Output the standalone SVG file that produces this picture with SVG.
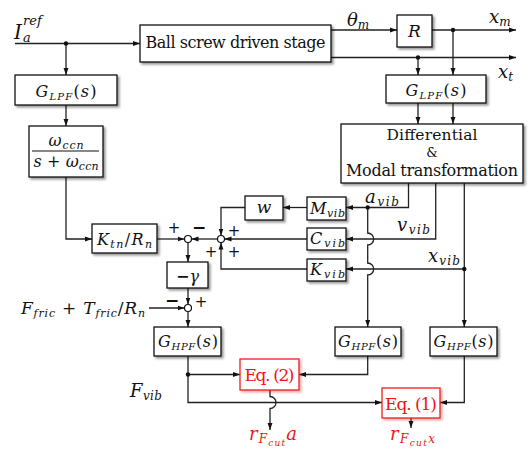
<svg xmlns="http://www.w3.org/2000/svg" width="528" height="453" viewBox="0 0 528 453">
<style>
.bx{fill:#fff;stroke:#111;stroke-width:1.3;filter:url(#sh)}
.rb{fill:#fff;stroke:#f21c1c;stroke-width:1.3;filter:url(#shr)}
.ln{fill:none;stroke:#222;stroke-width:1.3}
.ar{marker-end:url(#ah)}
.t{font-family:"DejaVu Serif","Liberation Serif",serif;fill:#111}
.i{font-style:italic}
.red{fill:#f01414}
.dot{fill:#111}
.sj{fill:#fff;stroke:#111;stroke-width:1.2}
.sg{font-family:"DejaVu Sans","Liberation Sans",sans-serif;font-size:15px;fill:#111}
.mi{font-family:"DejaVu Sans","Liberation Sans",sans-serif;font-size:17px;font-weight:bold;fill:#111}
</style>
<defs>
<filter id="sh" x="-20%" y="-20%" width="150%" height="160%"><feDropShadow dx="2" dy="2" stdDeviation="1.2" flood-color="#000" flood-opacity="0.4"/></filter>
<filter id="shr" x="-20%" y="-20%" width="150%" height="160%"><feDropShadow dx="2" dy="2" stdDeviation="1.2" flood-color="#b00" flood-opacity="0.3"/></filter>
<marker id="ah" viewBox="0 0 10 10" refX="10" refY="5" markerWidth="7" markerHeight="7" markerUnits="userSpaceOnUse" orient="auto"><path d="M0,1.5 L10,5 L0,8.5 z" fill="#111"/></marker>
</defs>

<g id="connectors">
<path class="ln ar" d="M15,43.5 H140"/>
<path class="ln ar" d="M66,43.5 V75"/>
<path class="ln ar" d="M66,105 V126"/>
<path class="ln ar" d="M66,177 V239 H92"/>
<path class="ln ar" d="M157,239 H184.5"/>
<path class="ln ar" d="M217.5,239 H191.5"/>
<path class="ln ar" d="M188,242.5 V262"/>
<path class="ln ar" d="M188,288 V304.5"/>
<path class="ln ar" d="M149,308 H184.5"/>
<path class="ln ar" d="M188,311.5 V327"/>
<path class="ln ar" d="M188,356 V402.5 H382"/>
<path class="ln ar" d="M188,374.5 H240"/>
<path class="ln ar" d="M331,30 H397"/>
<path class="ln ar" d="M432,30 H516"/>
<path class="ln ar" d="M453,30 V75"/>
<path class="ln ar" d="M331,57.5 H516"/>
<path class="ln ar" d="M418,57.5 V75"/>
<path class="ln ar" d="M418,103 V124"/>
<path class="ln ar" d="M453,103 V124"/>
<path class="ln ar" d="M408.5,183 V207.5 H346"/>
<path class="ln ar" d="M307,207.5 H283"/>
<path class="ln ar" d="M245,207.5 H221 V235.5"/>
<path class="ln ar" d="M435.7,183 V239 H346"/>
<path class="ln ar" d="M307,239 H224.5"/>
<path class="ln ar" d="M464.3,183 V327"/>
<path class="ln ar" d="M464.3,269 H346"/>
<path class="ln ar" d="M307,269 H221 V242.5"/>
<path class="ln ar" d="M367.7,207.5 V233 A6,6 0 0 1 367.7,245 V263 A6,6 0 0 1 367.7,275 V327"/>
<path class="ln ar" d="M367.7,356 V374.5 H299"/>
<path class="ln ar" d="M464.3,356 V402.5 H440"/>
<path class="ln ar" d="M270,390 V396.5 A6,6 0 0 1 270,408.5 V430"/>
<path class="ln ar" d="M411,418 V428"/>
<circle class="dot" cx="66" cy="43.5" r="2.2"/>
<circle class="dot" cx="453" cy="30" r="2.2"/>
<circle class="dot" cx="418" cy="57.5" r="2.2"/>
<circle class="dot" cx="367.7" cy="207.5" r="2.2"/>
<circle class="dot" cx="464.3" cy="269" r="2.2"/>
<circle class="dot" cx="188" cy="374.5" r="2.2"/>
</g>

<g id="input-label"><text class="t i" x="14" y="39" font-size="20">I<tspan x="23" dy="3" font-size="13">a</tspan><tspan x="23" dy="-17" font-size="13">ref</tspan></text></g>

<g id="ball-screw"><rect class="bx" x="140" y="25" width="191" height="37"/><text class="t" x="235.5" y="47.5" font-size="16" text-anchor="middle" textLength="180">Ball screw driven stage</text></g>

<g id="R"><rect class="bx" x="397" y="15" width="35" height="32"/><text class="t i" x="414.5" y="37" font-size="17" text-anchor="middle">R</text></g>

<g id="lpf1"><rect class="bx" x="15" y="75" width="102" height="30"/><text class="t i" x="66" y="97" font-size="16" text-anchor="middle" textLength="61">G<tspan font-size="10" dy="3">LPF</tspan><tspan dy="-3" font-style="normal">(</tspan>s<tspan font-style="normal">)</tspan></text></g>

<g id="ccn"><rect class="bx" x="29" y="126" width="74" height="51"/><line x1="32" y1="151" x2="99" y2="151" stroke="#111" stroke-width="1.2"/>
<text class="t i" x="66" y="146" font-size="16" text-anchor="middle" textLength="35">ω<tspan font-size="11" dy="3">ccn</tspan></text>
<text class="t i" x="66" y="167" font-size="16" text-anchor="middle" textLength="65">s<tspan font-style="normal"> + </tspan>ω<tspan font-size="11" dy="3">ccn</tspan></text></g>

<g id="ktn"><rect class="bx" x="92" y="224" width="65" height="29"/><text class="t i" x="124.5" y="245" font-size="16" text-anchor="middle" textLength="55">K<tspan font-size="11" dy="3">tn</tspan><tspan dy="-3" font-style="normal">/</tspan>R<tspan font-size="11" dy="3">n</tspan></text></g>

<g id="sum1"><circle class="sj" cx="188" cy="239" r="3.5"/><text class="sg" x="174" y="233" text-anchor="middle">+</text><text class="mi" x="199" y="233" text-anchor="middle">−</text></g>

<g id="sum2"><circle class="sj" cx="221" cy="239" r="3.5"/><text class="sg" x="234" y="236" text-anchor="middle">+</text><text class="sg" x="211" y="257" text-anchor="middle">+</text><text class="sg" x="234" y="257" text-anchor="middle">+</text></g>

<g id="gamma"><rect class="bx" x="167" y="262" width="41" height="26"/><text class="t i" x="187.5" y="282" font-size="16" text-anchor="middle"><tspan font-style="normal" font-weight="bold">−</tspan>γ</text></g>

<g id="sum3"><circle class="sj" cx="188" cy="308" r="3.5"/><text class="mi" x="172" y="306" text-anchor="middle">−</text><text class="sg" x="201" y="307" text-anchor="middle">+</text></g>

<g id="ffric-label"><text class="t i" x="21" y="314" font-size="17" textLength="124">F<tspan font-size="11" dy="3">fric</tspan><tspan dy="-3" font-style="normal"> + </tspan>T<tspan font-size="11" dy="3">fric</tspan><tspan dy="-3" font-style="normal">/</tspan>R<tspan font-size="11" dy="3">n</tspan></text></g>

<g id="hpf1"><rect class="bx" x="154" y="327" width="67" height="29"/><text class="t i" x="188" y="347" font-size="16" text-anchor="middle" textLength="60">G<tspan font-size="10" dy="3">HPF</tspan><tspan dy="-3" font-style="normal">(</tspan>s<tspan font-style="normal">)</tspan></text></g>

<g id="lpf2"><rect class="bx" x="386" y="75" width="100" height="28"/><text class="t i" x="436" y="96" font-size="16" text-anchor="middle" textLength="61">G<tspan font-size="10" dy="3">LPF</tspan><tspan dy="-3" font-style="normal">(</tspan>s<tspan font-style="normal">)</tspan></text></g>

<g id="diffmodal"><rect class="bx" x="341" y="124" width="182" height="59"/>
<text class="t" x="432" y="140" font-size="15.5" text-anchor="middle" textLength="91">Differential</text>
<text class="t" x="432" y="157" font-size="13" text-anchor="middle">&amp;</text>
<text class="t" x="432" y="176" font-size="16" text-anchor="middle" textLength="172">Modal transformation</text></g>

<g id="w"><rect class="bx" x="245" y="196" width="38" height="24"/><text class="t i" x="264" y="213" font-size="17" text-anchor="middle">w</text></g>

<g id="mvib"><rect class="bx" x="307" y="197" width="39" height="23"/><text class="t i" x="310" y="214" font-size="16" textLength="35">M<tspan font-size="11" dy="3">vib</tspan></text></g>

<g id="cvib"><rect class="bx" x="307" y="228" width="39" height="22"/><text class="t i" x="310" y="244" font-size="16" textLength="35">C<tspan font-size="11" dy="3">vib</tspan></text></g>

<g id="kvib"><rect class="bx" x="307" y="259" width="39" height="22"/><text class="t i" x="310" y="275" font-size="16" textLength="35">K<tspan font-size="11" dy="3">vib</tspan></text></g>

<g id="hpf2"><rect class="bx" x="335" y="327" width="66" height="29"/><text class="t i" x="368" y="347" font-size="16" text-anchor="middle" textLength="60">G<tspan font-size="10" dy="3">HPF</tspan><tspan dy="-3" font-style="normal">(</tspan>s<tspan font-style="normal">)</tspan></text></g>

<g id="hpf3"><rect class="bx" x="430" y="327" width="67" height="29"/><text class="t i" x="463.5" y="347" font-size="16" text-anchor="middle" textLength="60">G<tspan font-size="10" dy="3">HPF</tspan><tspan dy="-3" font-style="normal">(</tspan>s<tspan font-style="normal">)</tspan></text></g>

<g id="eq2"><rect class="rb" x="240" y="359" width="59" height="31"/><text class="t red" x="269.5" y="381" font-size="17" text-anchor="middle" textLength="50">Eq. (2)</text></g>

<g id="eq1"><rect class="rb" x="382" y="388" width="58" height="30"/><text class="t red" x="411" y="409.5" font-size="17" text-anchor="middle" textLength="52">Eq. (1)</text></g>

<g id="signal-labels">
<text class="t i" x="347" y="26" font-size="18">θ<tspan font-size="12" dy="3">m</tspan></text>
<text class="t i" x="489" y="23" font-size="18">x<tspan font-size="12" dy="3">m</tspan></text>
<text class="t i" x="498" y="78" font-size="18">x<tspan font-size="12" dy="3">t</tspan></text>
<text class="t i" x="365" y="203" font-size="18" textLength="34">a<tspan font-size="12" dy="3">vib</tspan></text>
<text class="t i" x="397" y="231" font-size="18" textLength="33">v<tspan font-size="12" dy="3">vib</tspan></text>
<text class="t i" x="428" y="262" font-size="18" textLength="32">x<tspan font-size="12" dy="3">vib</tspan></text>
<text class="t i" x="130" y="397" font-size="18" textLength="32">F<tspan font-size="12" dy="3">vib</tspan></text>
<text class="t i red" x="249" y="440" font-size="18" textLength="48">r<tspan font-size="12" dy="3">F</tspan><tspan font-size="9" dy="3">cut</tspan><tspan font-size="18" dy="-6">a</tspan></text>
<text class="t i red" x="390" y="440" font-size="18" textLength="45">r<tspan font-size="12" dy="3">F</tspan><tspan font-size="9" dy="3">cut</tspan><tspan font-size="12" dy="-3">x</tspan></text>
</g>
</svg>
